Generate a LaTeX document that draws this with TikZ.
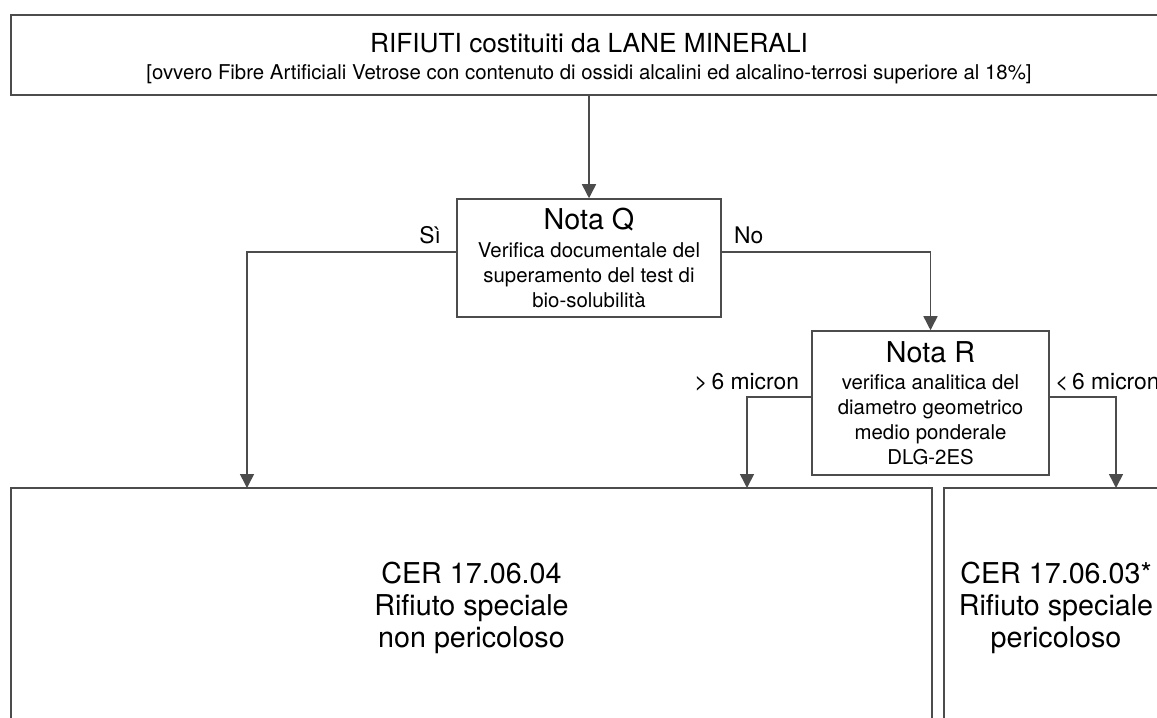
\documentclass[tikz,border=0pt]{standalone}
\usepackage{fontspec}
\setmainfont{TeX Gyre Heros}
\usetikzlibrary{arrows.meta,positioning}

\newcommand{\titlesize}{\fontsize{24.5}{27}\selectfont}
\newcommand{\headsize}{\fontsize{22.4}{25}\selectfont}
\newcommand{\bodysize}{\fontsize{17.4}{21.3}\selectfont}

\begin{document}
\begin{tikzpicture}[
    x=0.03cm, y=-0.03cm,
    box/.style={rectangle, draw=black!70, line width=1.3pt, align=center, inner sep=0pt},
    arrow/.style={draw=black!70, line width=1.3pt, -{Triangle[length=4.2mm, width=4.2mm]}},
    lbl/.style={font=\fontsize{19.5}{22}\selectfont, inner sep=0pt}
]
\useasboundingbox (0,0) rectangle (1157,717);
\clip (0,0) rectangle (1157,717);

% Top: waste description
\node[box, minimum width=34.68cm, minimum height=2.4cm] (rifiuti) at (589,55)
    {{\headsize RIFIUTI costituiti da LANE MINERALI}\\[9pt]
     {\bodysize [ovvero Fibre Artificiali Vetrose con contenuto di ossidi alcalini ed alcalino-terrosi superiore al 18\%]}\\[-14pt]
     \mbox{}};

% Tests
\node[box, font=\bodysize, minimum width=7.92cm, minimum height=3.54cm] (notaQ) at (589,258)
    {{\titlesize Nota Q}\\[2pt]Verifica documentale del\\superamento del test di\\bio-solubilità};
\node[box, font=\bodysize, minimum width=7.11cm, minimum height=4.32cm] (notaR) at (930.5,403)
    {{\titlesize Nota R}\\[2pt]verifica analitica del\\diametro geometrico\\medio ponderale\\DLG-2ES};

% Results
\node[box, font=\titlesize, minimum width=27.63cm, minimum height=7.2cm] (cer04) at (471.5,608)
    {CER 17.06.04\\Rifiuto speciale\\non pericoloso};
\node[box, font=\titlesize, minimum width=6.72cm, minimum height=7.2cm] (cer03) at (1056,608)
    {CER 17.06.03*\\Rifiuto speciale\\pericoloso};

% Arrow ends on the result boxes
\coordinate (siend) at (247,488);
\coordinate (gtend) at (747,488);
\coordinate (ltend) at (1116,488);

% Edges
\draw[arrow] (rifiuti.south) -- (notaQ.north);
\draw[arrow] ([yshift=0.18cm]notaQ.west) -| (siend);
\draw[arrow] ([yshift=0.18cm]notaQ.east) -| (notaR.north);
\draw[arrow] ([yshift=0.18cm]notaR.west) -| (gtend);
\draw[arrow] ([yshift=0.18cm]notaR.east) -| (ltend);

% Branch labels
\node[lbl, anchor=base east] at ([xshift=-0.45cm, yshift=0.44cm]notaQ.west) {Sì};
\node[lbl, anchor=base west] at ([xshift=0.36cm, yshift=0.44cm]notaQ.east) {No};
\node[lbl, anchor=base east] at ([xshift=-0.36cm, yshift=0.4cm]notaR.west) {>\,6 micron};
\node[lbl, anchor=base west] at ([xshift=0.15cm, yshift=0.4cm]notaR.east) {<\,6 micron};

\end{tikzpicture}
\end{document}
